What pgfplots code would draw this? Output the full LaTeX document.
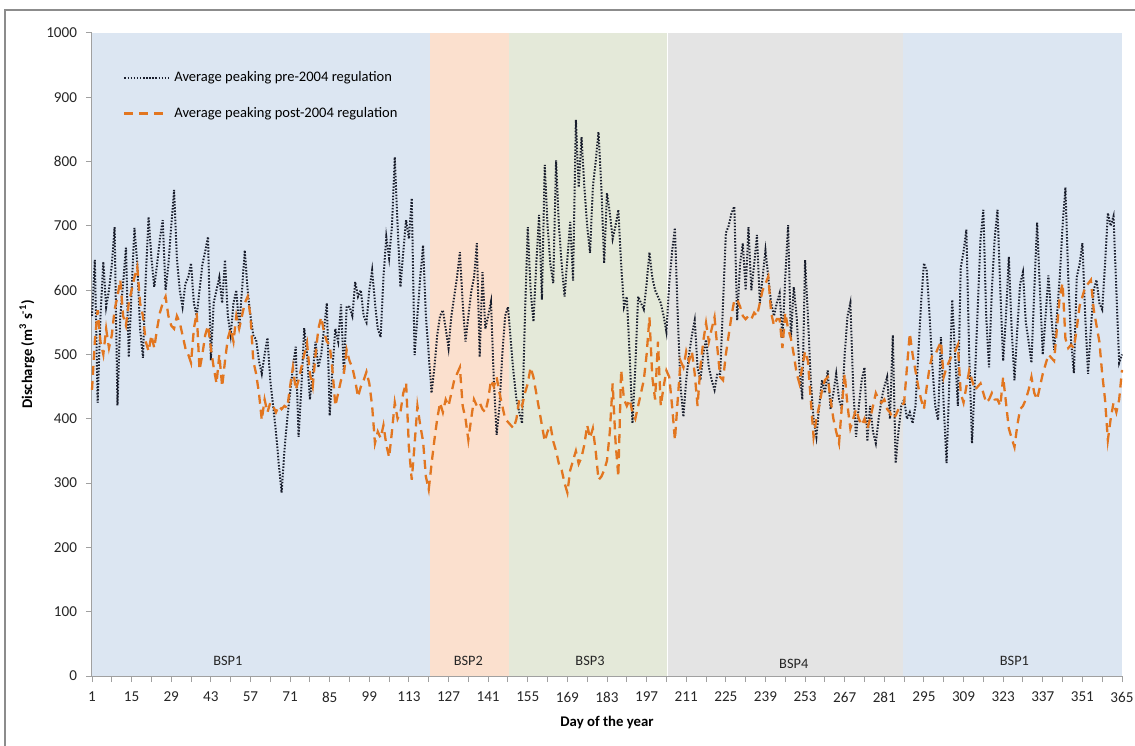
\documentclass[border=0pt]{standalone}
\usepackage{pgfplots}
\usepackage{pgfplotstable}
\pgfplotsset{compat=1.18}
\usepackage{fontspec}
\setmainfont{Carlito}
\definecolor{bspone}{RGB}{220,230,242}
\definecolor{bsptwo}{RGB}{251,224,206}
\definecolor{bspthree}{RGB}{228,233,217}
\definecolor{bspfour}{RGB}{228,228,228}
\definecolor{preline}{RGB}{25,30,45}
\definecolor{postline}{RGB}{226,118,32}
\definecolor{axgray}{RGB}{160,160,160}

\pgfplotstableread[row sep=\\]{
pre\\
560\\647\\425\\560\\644\\574\\600\\640\\698\\421\\
560\\610\\666\\496\\600\\697\\640\\540\\495\\620\\
714\\650\\605\\640\\680\\709\\600\\640\\700\\756\\
650\\600\\574\\610\\620\\642\\580\\560\\600\\640\\
660\\683\\491\\580\\600\\620\\580\\647\\560\\530\\
580\\600\\540\\600\\662\\600\\560\\530\\523\\490\\
470\\500\\526\\460\\420\\380\\330\\285\\350\\400\\
440\\480\\512\\372\\450\\541\\500\\430\\470\\520\\
480\\500\\540\\580\\405\\480\\540\\520\\578\\470\\
575\\574\\560\\613\\590\\600\\560\\550\\600\\631\\
580\\540\\527\\620\\683\\650\\700\\807\\700\\605\\
660\\709\\680\\743\\499\\560\\620\\670\\560\\500\\
440\\480\\530\\560\\569\\540\\510\\560\\590\\620\\
659\\580\\520\\560\\597\\620\\673\\496\\628\\540\\
560\\582\\460\\375\\420\\500\\560\\574\\520\\470\\
430\\410\\393\\560\\698\\600\\551\\640\\717\\585\\
795\\700\\640\\611\\802\\700\\640\\590\\650\\706\\
615\\865\\760\\838\\760\\700\\658\\760\\800\\846\\
760\\642\\751\\720\\680\\700\\725\\640\\574\\590\\
500\\393\\480\\590\\580\\570\\610\\659\\620\\600\\
590\\580\\560\\535\\611\\660\\697\\560\\450\\403\\
460\\500\\530\\553\\480\\460\\500\\523\\480\\460\\
445\\470\\470\\580\\689\\700\\720\\730\\553\\640\\
673\\600\\698\\600\\640\\686\\580\\620\\662\\620\\
580\\560\\580\\595\\525\\620\\701\\525\\605\\560\\
480\\430\\647\\560\\460\\400\\372\\420\\460\\440\\
475\\415\\440\\470\\430\\415\\500\\560\\580\\450\\
372\\420\\460\\480\\365\\420\\380\\362\\400\\430\\
450\\465\\400\\530\\331\\380\\420\\430\\400\\410\\
393\\420\\500\\580\\642\\630\\560\\480\\420\\398\\
527\\420\\331\\460\\585\\500\\420\\635\\660\\694\\
500\\362\\460\\570\\680\\725\\560\\480\\600\\680\\
725\\600\\490\\560\\652\\540\\460\\540\\610\\628\\
550\\520\\487\\600\\705\\600\\500\\560\\623\\560\\
507\\560\\620\\700\\760\\620\\520\\471\\620\\640\\
673\\560\\470\\540\\600\\616\\580\\570\\640\\720\\
700\\715\\600\\487\\500\\
}\pretab

\pgfplotstableread[row sep=\\]{
post\\
445\\520\\569\\520\\500\\540\\510\\530\\570\\590\\
616\\560\\545\\580\\600\\620\\636\\580\\560\\520\\
505\\530\\510\\540\\565\\580\\590\\560\\545\\540\\
560\\550\\530\\510\\500\\487\\540\\565\\476\\500\\
530\\545\\510\\480\\455\\500\\450\\490\\525\\540\\
520\\560\\540\\560\\580\\590\\560\\490\\470\\440\\
398\\430\\410\\425\\420\\410\\420\\415\\420\\417\\
450\\480\\445\\460\\480\\500\\518\\470\\450\\500\\
540\\558\\535\\520\\515\\475\\420\\440\\460\\470\\
507\\490\\480\\460\\434\\450\\460\\473\\455\\420\\
362\\380\\370\\390\\360\\340\\380\\425\\400\\410\\
440\\456\\355\\305\\360\\420\\390\\365\\310\\290\\
330\\367\\400\\425\\410\\430\\420\\440\\460\\470\\
480\\420\\400\\367\\400\\430\\420\\425\\415\\410\\
430\\460\\450\\465\\440\\420\\400\\395\\390\\385\\
400\\430\\420\\440\\455\\480\\465\\440\\415\\390\\
365\\380\\390\\365\\350\\330\\320\\300\\285\\320\\
335\\350\\330\\340\\360\\390\\370\\385\\350\\305\\
310\\320\\335\\380\\455\\365\\310\\476\\430\\420\\
430\\410\\400\\420\\440\\460\\500\\558\\465\\430\\
520\\420\\450\\475\\465\\420\\367\\430\\490\\480\\
505\\490\\505\\470\\420\\480\\520\\549\\520\\540\\
558\\510\\465\\460\\500\\530\\560\\585\\585\\575\\
560\\555\\560\\555\\565\\560\\580\\600\\610\\621\\
565\\545\\555\\555\\510\\565\\540\\525\\500\\471\\
455\\480\\505\\490\\430\\372\\400\\420\\445\\460\\
465\\430\\400\\380\\362\\420\\470\\420\\385\\400\\
415\\400\\390\\400\\385\\400\\420\\440\\430\\425\\
430\\415\\410\\400\\405\\415\\420\\425\\480\\533\\
500\\475\\450\\430\\415\\450\\480\\500\\500\\510\\
520\\465\\480\\490\\500\\505\\515\\440\\425\\450\\
475\\460\\445\\450\\455\\440\\425\\430\\440\\430\\
430\\420\\465\\425\\385\\370\\356\\390\\415\\420\\
430\\445\\465\\440\\430\\450\\470\\485\\500\\495\\
490\\540\\590\\611\\525\\510\\515\\510\\540\\575\\
590\\605\\610\\616\\570\\545\\520\\470\\430\\367\\
400\\425\\410\\430\\476\\
}\posttab

\begin{document}
\begin{tikzpicture}
\begin{axis}[
  name=ax,
  at={(0,0)}, anchor=south west,
  scale only axis,
  width=515bp, height=321.5bp,
  xmin=1, xmax=365, ymin=0, ymax=1000,
  axis lines=left,
  axis line style={-, draw=axgray, line width=0.6pt},
  xtick={1,15,...,365},
  minor xtick={8,22,...,365},
  ytick={0,100,...,1000},
  tick align=outside,
  major tick length=3bp,
  minor tick length=3bp,
  tick style={draw=axgray, line width=0.5pt},
  tick label style={font=\fontsize{7.6}{8}\selectfont, text=black!85},
  /pgf/number format/assume math mode=true,
  /pgf/number format/1000 sep={},
  xticklabel style={yshift=-1.5bp},
  yticklabel style={xshift=-1bp},
  xlabel={\textbf{Day of the year}},
  ylabel={\textbf{Discharge (m\textsuperscript{3} s\textsuperscript{-1})}},
  label style={font=\fontsize{7.4}{8}\selectfont},
  xlabel style={yshift=0bp},
  ylabel style={yshift=-1bp},
  legend style={draw=none, fill=none, at={(rel axis cs:0.03,0.947)}, anchor=north west,
    font=\fontsize{7.3}{8}\selectfont, row sep=7.2bp, inner sep=0pt},
  legend cell align=left,
  legend image code/.code={\draw[#1] (0cm,0cm) -- (0.79cm,0cm);},
  clip=false,
]
\addplot[fill=bspone, draw=none, forget plot] coordinates {(1,0) (1,1000) (120.4,1000) (120.4,0)} -- cycle;
\addplot[fill=bsptwo, draw=none, forget plot] coordinates {(120.4,0) (120.4,1000) (148.3,1000) (148.3,0)} -- cycle;
\addplot[fill=bspthree, draw=none, forget plot] coordinates {(148.3,0) (148.3,1000) (204.4,1000) (204.4,0)} -- cycle;
\addplot[fill=bspfour, draw=none, forget plot] coordinates {(204.6,0) (204.6,1000) (287.6,1000) (287.6,0)} -- cycle;
\addplot[fill=bspone, draw=none, forget plot] coordinates {(287.6,0) (287.6,1000) (365,1000) (365,0)} -- cycle;
\addplot[draw=white, line width=0.6pt, forget plot] coordinates {(204.5,0) (204.5,1000)};

\addplot[preline, line width=1.0pt, dash pattern=on 0.75bp off 0.8bp, line cap=butt]
  table[x expr=\coordindex+1, y=pre] {\pretab};
\addlegendentry{Average peaking pre-2004 regulation}
\addplot[postline, line width=1.15pt, dash pattern=on 4.5bp off 3bp]
  table[x expr=\coordindex+1, y=post] {\posttab};
\addlegendentry{Average peaking post-2004 regulation}

\node[font=\fontsize{7.2}{8}\selectfont, text=black!85] at (axis cs:49,24) {BSP1};
\node[font=\fontsize{7.2}{8}\selectfont, text=black!85] at (axis cs:134,24) {BSP2};
\node[font=\fontsize{7.2}{8}\selectfont, text=black!85] at (axis cs:177,24) {BSP3};
\node[font=\fontsize{7.2}{8}\selectfont, text=black!85] at (axis cs:249,19) {BSP4};
\node[font=\fontsize{7.2}{8}\selectfont, text=black!85] at (axis cs:327,24) {BSP1};
\end{axis}
\pgfresetboundingbox
\useasboundingbox ([xshift=-46bp,yshift=-35bp]ax.south west) rectangle ([xshift=6.5bp,yshift=16.5bp]ax.north east);
\draw[black!45, line width=0.7pt] ([xshift=-43.5bp,yshift=-40bp]ax.south west) -- ([xshift=-43.5bp,yshift=11.5bp]ax.north west) -- ([xshift=10bp,yshift=11.5bp]ax.north east);
\end{tikzpicture}
\end{document}
